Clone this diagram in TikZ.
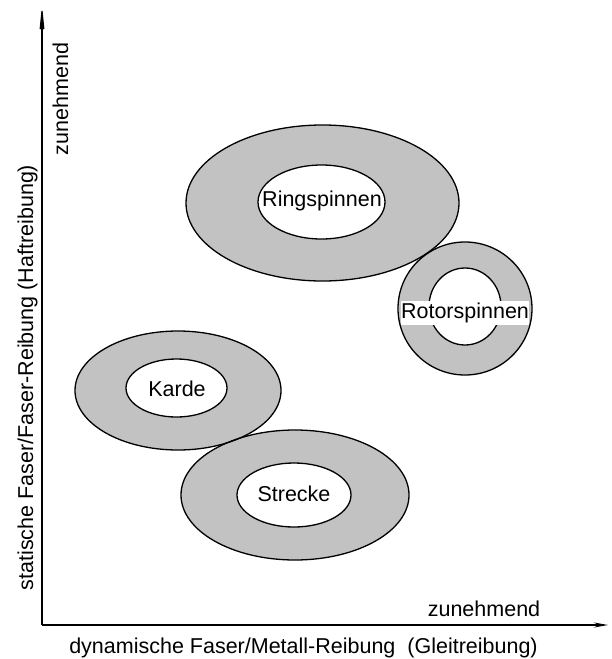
\documentclass[tikz,border=0pt]{standalone}
\usepackage{fontspec}
\setmainfont{Liberation Sans}
\usetikzlibrary{arrows.meta}
\begin{document}
\begin{tikzpicture}[x=1pt,y=1pt,
  lbl/.style={font=\fontsize{21.5}{24}\selectfont, inner sep=0pt},
  ring/.style={fill=black!24},
  hole/.style={fill=white},
  edge/.style={draw=black, line width=1.3pt},
  axis/.style={draw=black, line width=1.2pt}]
\useasboundingbox (0,0) rectangle (611,-659);
% named anchor points
\coordinate (O) at (42,-625);
\coordinate (Ytip) at (42,-5);
\coordinate (Xtip) at (608,-625);
% fills
\fill[ring] (322.5,-203) ellipse [x radius=136.5, y radius=78];
\fill[ring] (465,-308.5) ellipse [x radius=67, y radius=66.5];
\fill[ring] (178,-390.5) ellipse [x radius=103, y radius=59.5];
\fill[ring] (295,-495) ellipse [x radius=114, y radius=65];
\fill[hole] (321.5,-202) ellipse [x radius=63.5, y radius=37];
\fill[hole] (465,-306.5) ellipse [x radius=36, y radius=38.5];
\fill[hole] (176.5,-388) ellipse [x radius=50.5, y radius=29];
\fill[hole] (294,-495) ellipse [x radius=57, y radius=32];
% outlines
\draw[edge] (322.5,-203) ellipse [x radius=136.5, y radius=78];
\draw[edge] (465,-308.5) ellipse [x radius=67, y radius=66.5];
\draw[edge] (178,-390.5) ellipse [x radius=103, y radius=59.5];
\draw[edge] (295,-495) ellipse [x radius=114, y radius=65];
\draw[edge] (321.5,-202) ellipse [x radius=63.5, y radius=37];
\draw[edge] (465,-306.5) ellipse [x radius=36, y radius=38.5];
\draw[edge] (176.5,-388) ellipse [x radius=50.5, y radius=29];
\draw[edge] (294,-495) ellipse [x radius=57, y radius=32];
% labels inside
\node[lbl] (ring) at (322,-201) {Ringspinnen};
\node[lbl, fill=white, inner xsep=0.5pt, inner ysep=2pt] (rotor) at (465,-313) {Rotorspinnen};
\node[lbl] (karde) at (177,-389) {Karde};
\node[lbl] (strecke) at (294,-494) {Strecke};
% axes
\draw[axis, -{Stealth[length=30pt,width=6pt]}] (O) -- (Ytip);
\draw[axis, -{Stealth[length=14pt,width=5pt]}] (O) -- (Xtip);
% axis labels
\node[lbl, anchor=base, rotate=90] (yz) at (68,-99) {zunehmend};
\node[lbl, anchor=base, rotate=90] (ylab) at (33,-377.5) {statische Faser/Faser-Reibung (Haftreibung)};
\node[lbl, anchor=base] (xz) at (484,-616) {zunehmend};
\node[lbl, anchor=base] (xlab) at (303.5,-653) {dynamische Faser/Metall-Reibung~~(Gleitreibung)};
\end{tikzpicture}
\end{document}
